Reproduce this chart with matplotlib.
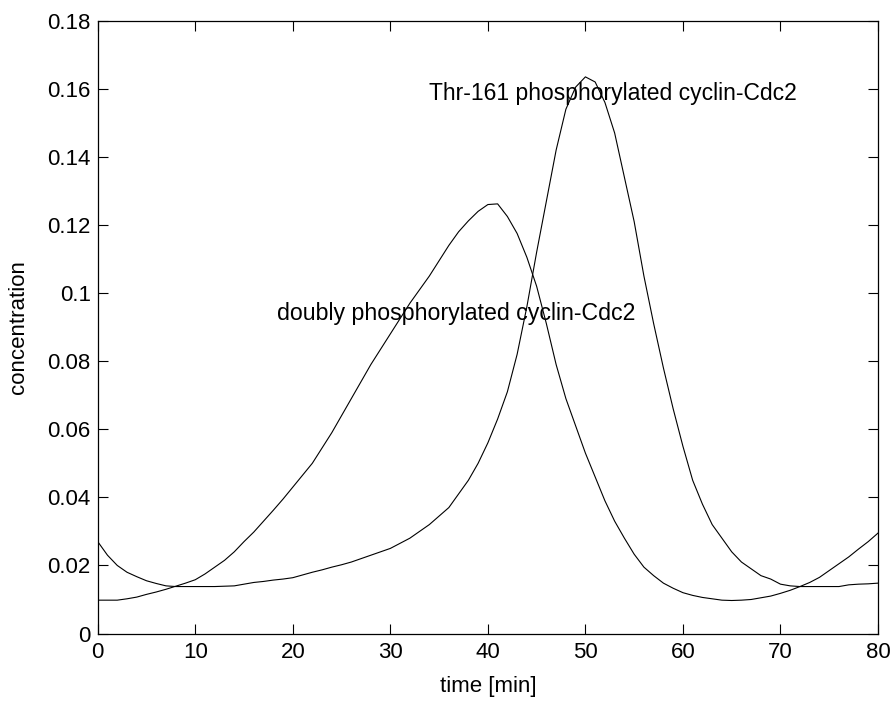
import matplotlib
matplotlib.use('Agg')
import matplotlib.pyplot as plt

plt.rcParams['font.family'] = ['Liberation Sans', 'DejaVu Sans']

# time axis [min], 1 min steps
t = list(range(0, 81))

# doubly phosphorylated cyclin-Cdc2
doubly = [0.0098, 0.0098, 0.0098, 0.0102, 0.0107, 0.0115, 0.0122, 0.0130, 0.0139, 0.0148,
          0.0158, 0.0175, 0.0195, 0.0215, 0.0240, 0.0270, 0.0298, 0.0330, 0.0362, 0.0395,
          0.0430, 0.0465, 0.0500, 0.0545, 0.0590, 0.0640, 0.0690, 0.0740, 0.0790, 0.0835,
          0.0880, 0.0925, 0.0970, 0.1010, 0.1050, 0.1095, 0.1140, 0.1180, 0.1212, 0.1240,
          0.1260, 0.1262, 0.1225, 0.1175, 0.1105, 0.1020, 0.0910, 0.0790, 0.0690, 0.0610,
          0.0530, 0.0460, 0.0390, 0.0330, 0.0280, 0.0233, 0.0195, 0.0170, 0.0148, 0.0133,
          0.0120, 0.0112, 0.0106, 0.0102, 0.0098, 0.0097, 0.0098, 0.0100, 0.0105, 0.0110,
          0.0118, 0.0127, 0.0138, 0.0150, 0.0165, 0.0185, 0.0205, 0.0225, 0.0248, 0.0270,
          0.0295]

# Thr-161 phosphorylated cyclin-Cdc2
thr161 = [0.0270, 0.0230, 0.0200, 0.0180, 0.0167, 0.0155, 0.0147, 0.0140, 0.0138, 0.0138,
          0.0138, 0.0138, 0.0138, 0.0139, 0.0140, 0.0145, 0.0150, 0.0153, 0.0157, 0.0160,
          0.0164, 0.0172, 0.0180, 0.0187, 0.0195, 0.0202, 0.0210, 0.0220, 0.0230, 0.0240,
          0.0250, 0.0265, 0.0280, 0.0300, 0.0320, 0.0345, 0.0370, 0.0410, 0.0450, 0.0500,
          0.0560, 0.0630, 0.0710, 0.0820, 0.0960, 0.1120, 0.1270, 0.1420, 0.1540, 0.1605,
          0.1635, 0.1620, 0.1560, 0.1470, 0.1340, 0.1210, 0.1050, 0.0910, 0.0780, 0.0660,
          0.0550, 0.0450, 0.0380, 0.0320, 0.0280, 0.0240, 0.0210, 0.0190, 0.0170, 0.0160,
          0.0145, 0.0140, 0.0138, 0.0138, 0.0138, 0.0138, 0.0138, 0.0143, 0.0145, 0.0146,
          0.0148]

xticks = [0, 10, 20, 30, 40, 50, 60, 70, 80]
yticks = [0, 0.02, 0.04, 0.06, 0.08, 0.1, 0.12, 0.14, 0.16, 0.18]
ytick_labels = ['0', '0.02', '0.04', '0.06', '0.08', '0.1', '0.12', '0.14', '0.16', '0.18']

fs = 16

fig = plt.figure(figsize=(8.95, 7.04), dpi=100)
ax = fig.add_axes([0.1092, 0.1001, 0.8718, 0.8705])

ax.plot(t, doubly, color='black', linewidth=0.8)
ax.plot(t, thr161, color='black', linewidth=0.8)

ax.text(18.4, 0.094, 'doubly phosphorylated cyclin-Cdc2', fontsize=16.7, va='center', ha='left')
ax.text(34.0, 0.1585, 'Thr-161 phosphorylated cyclin-Cdc2', fontsize=16.5, va='center', ha='left')

ax.set_xlim(0, 80)
ax.set_ylim(0, 0.18)
ax.set_xticks(xticks)
ax.set_xticklabels([str(x) for x in xticks])
ax.set_yticks(yticks)
ax.set_yticklabels(ytick_labels)
ax.tick_params(direction='in', length=7, width=0.8, labelsize=fs,
               top=True, right=True)
ax.tick_params(axis='x', pad=6)
ax.tick_params(axis='y', pad=5)
for s in ax.spines.values():
    s.set_linewidth(0.9)

ax.set_xlabel('time [min]', fontsize=fs, va='center')
ax.xaxis.set_label_coords(0.5, -0.086)
ax.set_ylabel('concentration', fontsize=fs, va='center')
ax.yaxis.set_label_coords(-0.102, 0.5)

fig.savefig('out.png', dpi=100)
